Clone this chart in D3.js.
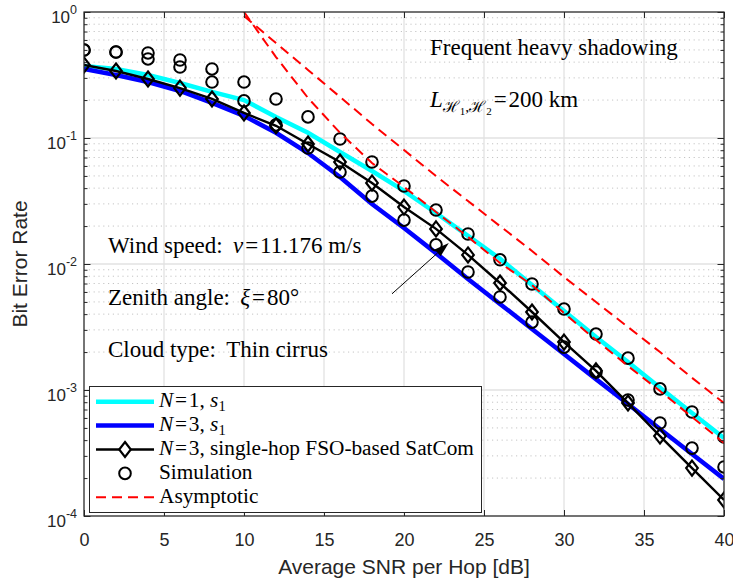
<!DOCTYPE html>
<html>
<head>
<meta charset="utf-8">
<script src="https://cdn.jsdelivr.net/npm/d3@7"></script>
<style>
  body { margin: 0; background: #fff; }
  svg { display: block; }
</style>
</head>
<body>
<svg id="chart" width="733" height="587"></svg>
<script>
// ---- data -------------------------------------------------------------
const snrDb = [0, 2, 4, 6, 8, 10, 12, 14, 16, 18, 20, 22, 24, 26, 28, 30, 32, 34, 36, 38, 40];

// analytical BER curves
const berN1 = [0.373, 0.353, 0.316, 0.273, 0.232, 0.200, 0.147, 0.110, 0.0774, 0.0547, 0.0380,
  0.0254, 0.0167, 0.0110, 0.00681, 0.00424, 0.00263, 0.00167, 0.00104, 0.000657, 0.000416];
const berN3 = [0.353, 0.316, 0.278, 0.236, 0.190, 0.150, 0.110, 0.0760, 0.0490, 0.0299, 0.0193,
  0.0122, 0.00760, 0.00482, 0.00305, 0.00193, 0.00122, 0.000774, 0.000490, 0.000310, 0.000197];
const berSingleHop = [0.380, 0.340, 0.294, 0.249, 0.204, 0.158, 0.125, 0.0896, 0.0645, 0.0440, 0.0283,
  0.0190, 0.0118, 0.00707, 0.00416, 0.00240, 0.00142, 0.000788, 0.000431, 0.000240, 0.000134];

// Monte-Carlo simulation points
const simN1 = [0.499, 0.481, 0.473, 0.416, 0.353, 0.278, 0.204, 0.147, 0.0982, 0.0645, 0.0416,
  0.0268, 0.0173, 0.0108, 0.00694, 0.00439, 0.00278, 0.00179, 0.00102, 0.000669, 0.000424];
const simN3 = [0.499, 0.481, 0.424, 0.366, 0.278, 0.197, 0.127, 0.0833, 0.0537, 0.0346, 0.0223,
  0.0142, 0.00864, 0.00547, 0.00346, 0.00219, 0.00139, 0.000833, 0.000547, 0.000346, 0.000245];

// high-SNR asymptotes
const asymSnrDb = [10, 12, 14, 16, 18, 20, 22, 24, 26, 28, 30, 32, 34, 36, 38, 40];
const asymA = [1.0, 0.439, 0.208, 0.110, 0.0633, 0.0409, 0.0259, 0.0164, 0.0102, 0.00681,
  0.00408, 0.00249, 0.00155, 0.000982, 0.000611, 0.000380];
const asymB = [0.929, 0.567, 0.347, 0.212, 0.129, 0.0803, 0.0499, 0.0316, 0.0200, 0.0127,
  0.00788, 0.00499, 0.00316, 0.00200, 0.00125, 0.000788];

// axis ticks
const xTicks = [0, 5, 10, 15, 20, 25, 30, 35, 40];
const yTickExps = [0, -1, -2, -3, -4];

// ---- setup ------------------------------------------------------------
const SANS = "'Liberation Sans', Arial, Helvetica, sans-serif";
const SERIF = "'Liberation Serif', 'Times New Roman', serif";
const AX = "#262626";
const HAIR = "\u200A";
const THIN = "\u2009";

const svg = d3.select("#chart");
const x = d3.scaleLinear().domain([0, 40]).range([84, 724]);
const y = d3.scaleLog().domain([1e-4, 1]).range([516, 12]);
const [x0, x1] = x.range();
const [y0, y1] = y.range();

const yMajor = yTickExps.map(e => Math.pow(10, e));
const yMinor = [];
for (let e = -4; e < 0; e++) for (let m = 2; m <= 9; m++) yMinor.push(m * Math.pow(10, e));

svg.append("rect").attr("width", 733).attr("height", 587).attr("fill", "#fff");
svg.append("defs").append("clipPath").attr("id", "plotClip")
  .append("rect").attr("x", x0).attr("y", y1).attr("width", x1 - x0).attr("height", y0 - y1);

// ---- grid -------------------------------------------------------------
const grid = svg.append("g");
grid.selectAll(".ymin").data(yMinor).join("line")
  .attr("x1", x0).attr("x2", x1).attr("y1", d => y(d)).attr("y2", d => y(d))
  .attr("stroke", "#c4c4c4").attr("stroke-width", 1).attr("stroke-dasharray", "1.2,3.6");
grid.selectAll(".ymaj").data(yMajor).join("line")
  .attr("x1", x0).attr("x2", x1).attr("y1", d => y(d)).attr("y2", d => y(d))
  .attr("stroke", "#e2e2e2").attr("stroke-width", 1.3);
grid.selectAll(".xmaj").data(xTicks).join("line")
  .attr("x1", d => x(d)).attr("x2", d => x(d)).attr("y1", y1).attr("y2", y0)
  .attr("stroke", "#e2e2e2").attr("stroke-width", 1.3);

// ---- curves -----------------------------------------------------------
const plot = svg.append("g").attr("clip-path", "url(#plotClip)");
const line = d3.line().x(d => x(d[0])).y(d => y(d[1]));
const zipS = (xs, ys) => xs.map((v, i) => [v, ys[i]]);

plot.append("path").datum(zipS(snrDb, berN1)).attr("d", line)
  .attr("fill", "none").attr("stroke", "#00ffff").attr("stroke-width", 4.5);
plot.append("path").datum(zipS(snrDb, berN3)).attr("d", line)
  .attr("fill", "none").attr("stroke", "#0000ff").attr("stroke-width", 4.5);
plot.append("path").datum(zipS(snrDb, berSingleHop)).attr("d", line)
  .attr("fill", "none").attr("stroke", "#000").attr("stroke-width", 2.4);

const diamond = (cx, cy) => `M${cx},${cy - 7.5}L${cx + 5.8},${cy}L${cx},${cy + 7.5}L${cx - 5.8},${cy}Z`;
plot.selectAll(".dia").data(zipS(snrDb, berSingleHop)).join("path")
  .attr("d", d => diamond(x(d[0]), y(d[1])))
  .attr("fill", "none").attr("stroke", "#000").attr("stroke-width", 2.2);

[simN1, simN3].forEach(s => {
  plot.append("g").selectAll("circle").data(zipS(snrDb, s)).join("circle")
    .attr("cx", d => x(d[0])).attr("cy", d => y(d[1])).attr("r", 5.8)
    .attr("fill", "none").attr("stroke", "#000").attr("stroke-width", 2);
});

[asymA, asymB].forEach(s => {
  plot.append("path").datum(zipS(asymSnrDb, s)).attr("d", line)
    .attr("fill", "none").attr("stroke", "#ff0000").attr("stroke-width", 2)
    .attr("stroke-dasharray", "10,6");
});

// ---- axes -------------------------------------------------------------
function styleAxis(g) {
  g.select(".domain").remove();
  g.selectAll(".tick line").attr("stroke", AX).attr("stroke-width", 1);
  g.selectAll("text").attr("fill", AX).attr("font-family", SANS).attr("font-size", 18);
}
svg.append("g").attr("transform", `translate(0,${y0})`)
  .call(d3.axisBottom(x).tickValues(xTicks).tickSize(-6).tickPadding(17).tickFormat(d3.format("d")))
  .call(styleAxis);
svg.append("g").attr("transform", `translate(0,${y1})`)
  .call(d3.axisTop(x).tickValues(xTicks).tickSize(-6).tickFormat(""))
  .call(styleAxis);
svg.append("g").attr("transform", `translate(${x0},0)`)
  .call(d3.axisLeft(y).tickValues(yMinor).tickSize(-3.5).tickFormat(""))
  .call(styleAxis);
svg.append("g").attr("transform", `translate(${x1},0)`)
  .call(d3.axisRight(y).tickValues(yMinor).tickSize(-3.5).tickFormat(""))
  .call(styleAxis);
svg.append("g").attr("transform", `translate(${x1},0)`)
  .call(d3.axisRight(y).tickValues(yMajor).tickSize(-6.5).tickFormat(""))
  .call(styleAxis);
const yAxisG = svg.append("g").attr("transform", `translate(${x0},0)`)
  .call(d3.axisLeft(y).tickValues(yMajor).tickSize(-6.5).tickFormat(""))
  .call(styleAxis);

// power-of-ten labels
yAxisG.selectAll(".tick").each(function (d, i) {
  const t = d3.select(this).append("text")
    .attr("x", -7).attr("y", 10).attr("text-anchor", "end")
    .attr("fill", AX).attr("font-family", SANS).attr("font-size", 17);
  t.append("tspan").text("10");
  t.append("tspan").attr("dy", -9).attr("font-size", 12.5).text(String(yTickExps[i]));
});

// frame
svg.append("rect").attr("x", x0).attr("y", y1).attr("width", x1 - x0).attr("height", y0 - y1)
  .attr("fill", "none").attr("stroke", AX).attr("stroke-width", 1.2);

// axis titles
svg.append("text").attr("x", (x0 + x1) / 2).attr("y", 574).attr("text-anchor", "middle")
  .attr("font-family", SANS).attr("font-size", 21).attr("fill", AX)
  .text("Average SNR per Hop [dB]");
svg.append("text").attr("transform", `translate(27,${(y0 + y1) / 2}) rotate(-90)`)
  .attr("text-anchor", "middle").attr("font-family", SANS).attr("font-size", 21).attr("fill", AX)
  .text("Bit Error Rate");

// ---- rich serif text helper -------------------------------------------
function rich(parent, px, py, size, parts) {
  const t = parent.append("text").attr("x", px).attr("y", py)
    .attr("font-family", SERIF).attr("font-size", size).attr("fill", "#000")
    .style("white-space", "pre");
  let shift = 0;
  parts.forEach(p => {
    const [str, kind] = typeof p === "string" ? [p, ""] : p;
    const s = t.append("tspan").text(str);
    let target = 0, fs = size;
    if (kind.includes("i")) s.attr("font-style", "italic");
    if (kind.includes("s")) { target = size * 0.2; fs = size * 0.68; }
    if (kind.includes("t")) { target = size * 0.34; fs = size * 0.48; }
    s.attr("font-size", fs);
    if (target !== shift) { s.attr("dy", target - shift); shift = target; }
  });
  return t;
}
const eq = HAIR + "=" + HAIR;

// ---- annotations ------------------------------------------------------
const notes = svg.append("g");
rich(notes, 430, 55, 23, ["Frequent heavy shadowing"]);
rich(notes, 430, 107, 23, [["L", "i"], ["\u210B", "s"], ["1", "t"], [",", "s"], ["\u210B", "s"], ["2", "t"], eq + "200 km"]);
rich(notes, 108, 253, 23, ["Wind speed: " + THIN, ["v", "i"], eq + "11.176 m/s"]);
rich(notes, 108, 305, 23, ["Zenith angle: " + THIN, ["\u03BE", "i"], eq + "80\u00B0"]);
rich(notes, 108, 357, 23, ["Cloud type: " + THIN + "Thin cirrus"]);

// arrow pointing at the curve group
{
  const tail = [x(19.25), y(5.8e-3)];
  const tip = [x(22.8), y(0.0147)];
  const ang = Math.atan2(tip[1] - tail[1], tip[0] - tail[0]);
  const L = 15, Wd = 4.5;
  const bx = tip[0] - L * Math.cos(ang), by = tip[1] - L * Math.sin(ang);
  notes.append("line").attr("x1", tail[0]).attr("y1", tail[1]).attr("x2", bx).attr("y2", by)
    .attr("stroke", "#000").attr("stroke-width", 1);
  notes.append("path")
    .attr("d", `M${tip[0]},${tip[1]}L${bx + Wd * Math.sin(ang)},${by - Wd * Math.cos(ang)}L${bx - Wd * Math.sin(ang)},${by + Wd * Math.cos(ang)}Z`)
    .attr("fill", "#000");
}

// ---- legend -----------------------------------------------------------
const legend = svg.append("g");
legend.append("rect").attr("x", 89.5).attr("y", 386.5).attr("width", 392).attr("height", 126)
  .attr("fill", "#fff").attr("stroke", AX).attr("stroke-width", 1);
const legendItems = [
  { parts: [["N", "i"], eq + "1, ", ["s", "i"], ["1", "s"]], stroke: "#00ffff", width: 4.5 },
  { parts: [["N", "i"], eq + "3, ", ["s", "i"], ["1", "s"]], stroke: "#0000ff", width: 4.5 },
  { parts: [["N", "i"], eq + "3, single-hop FSO-based SatCom"], stroke: "#000", width: 2.4, marker: "diamond" },
  { parts: ["Simulation"], marker: "circle" },
  { parts: ["Asymptotic"], stroke: "#ff0000", width: 2, dash: "10,6" }
];
legendItems.forEach((it, i) => {
  const cy = 401.7 + i * 23.9;
  if (it.stroke) {
    legend.append("line").attr("x1", 96).attr("x2", 154).attr("y1", cy).attr("y2", cy)
      .attr("stroke", it.stroke).attr("stroke-width", it.width)
      .attr("stroke-dasharray", it.dash || null);
  }
  if (it.marker === "diamond") {
    legend.append("path").attr("d", diamond(125, cy)).attr("fill", "#fff")
      .attr("stroke", "#000").attr("stroke-width", 2.2);
  }
  if (it.marker === "circle") {
    legend.append("circle").attr("cx", 125).attr("cy", cy).attr("r", 5.8)
      .attr("fill", "none").attr("stroke", "#000").attr("stroke-width", 2);
  }
  rich(legend, 159, cy + 5.5, 21.3, it.parts);
});
</script>
</body>
</html>
